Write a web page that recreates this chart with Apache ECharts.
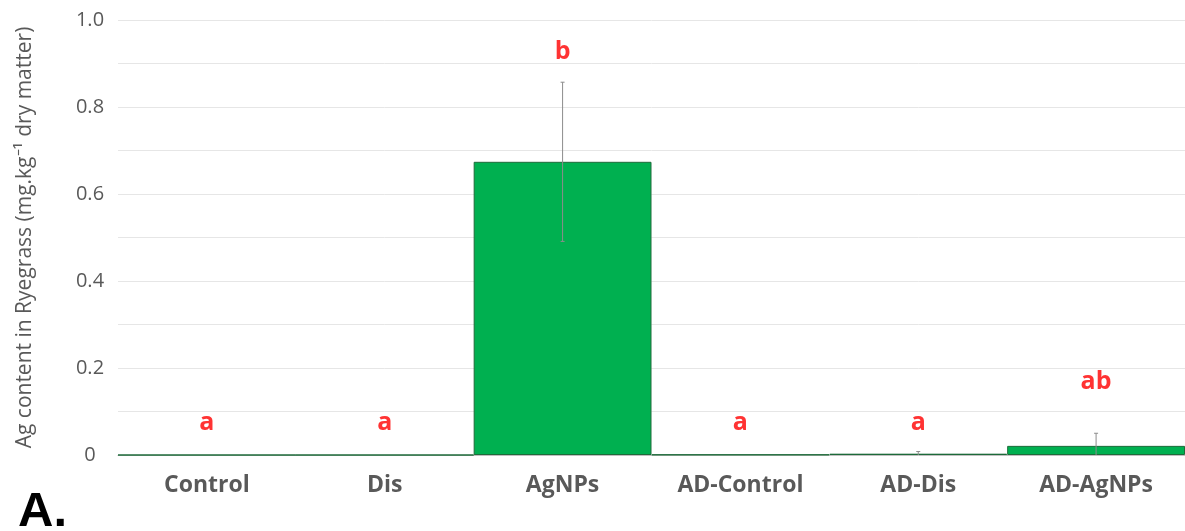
<!DOCTYPE html>
<html><head><meta charset="utf-8">
<script src="https://cdn.jsdelivr.net/npm/echarts@6/dist/echarts.min.js"></script>
<style>html,body{margin:0;padding:0;background:#fff;overflow:hidden}#c{width:1185px;height:531px}</style>
</head><body><div id="c"></div>
<script>
const categories = ['Control','Dis','AgNPs','AD-Control','AD-Dis','AD-AgNPs'];
const means = [0, 0, 0.674, 0.001, 0.003, 0.021];
const errors = [0, 0, 0.183, 0, 0.005, 0.029];
const letters = ['a','a','b','a','a','ab'];
const letterHeights = [0.074, 0.074, 0.926, 0.074, 0.074, 0.168];

const chart = echarts.init(document.getElementById('c'));
const font = '"Open Sans", "Liberation Sans", sans-serif';
chart.setOption({
  animation: false,
  grid: {left: 118, right: 0, top: 20, bottom: 76},
  xAxis: {
    type: 'category', data: categories,
    axisTick: {show: false},
    axisLine: {lineStyle: {color: '#bfbfbf', width: 1}},
    axisLabel: {color: '#595959', fontSize: 23, fontWeight: 'bold', fontFamily: font, margin: 19}
  },
  yAxis: {
    type: 'value', min: 0, max: 1, interval: 0.1,
    name: 'Ag content in Ryegrass (mg.kg⁻¹ dry matter)',
    nameLocation: 'middle', nameGap: 82,
    nameTextStyle: {color: '#595959', fontSize: 21, fontFamily: font},
    axisLine: {show: false}, axisTick: {show: false},
    splitLine: {lineStyle: {color: '#e6e6e6', width: 1}},
    axisLabel: {
      color: '#595959', fontSize: 20, fontFamily: font, margin: 28, align: 'center',
      formatter: v => { const r = Math.round(v*10); if (r % 2) return ''; return r === 0 ? '0' : (r/10).toFixed(1); }
    }
  },
  series: [
    {
      type: 'bar', data: means, barWidth: '100%',
      itemStyle: {color: '#00b050', borderColor: '#1e6b3a', borderWidth: 1}
    },
    {
      type: 'custom',
      data: means.map((m, i) => [i, Math.max(0, m - errors[i]), m + errors[i]]),
      renderItem: (params, api) => {
        const i = api.value(0);
        if (errors[i] === 0) return null;
        const lo = api.coord([i, api.value(1)]);
        const hi = api.coord([i, api.value(2)]);
        const st = {stroke: '#8c8c8c', lineWidth: 1};
        const children = [
          {type: 'line', shape: {x1: lo[0], y1: lo[1], x2: hi[0], y2: hi[1]}, style: st},
          {type: 'line', shape: {x1: hi[0]-2, y1: hi[1], x2: hi[0]+2, y2: hi[1]}, style: st}
        ];
        if (api.value(1) > 0) children.push({type: 'line', shape: {x1: lo[0]-2, y1: lo[1], x2: lo[0]+2, y2: lo[1]}, style: st});
        return {type: 'group', children};
      },
      z: 5
    },
    {
      type: 'scatter', symbolSize: 0,
      data: letterHeights.map((h, i) => ({value: [i, h], name: letters[i]})),
      label: {show: true, position: 'inside', formatter: p => p.name,
        color: '#ff0000', fontSize: 25, fontWeight: 'bold', fontFamily: font}
    }
  ],
  graphic: [{
    type: 'text', x: 18, y: 512,
    style: {text: 'A.', fontSize: 49, fontWeight: 'bold', fill: '#000', verticalAlign: 'middle',
      fontFamily: '"Liberation Sans", Arial, sans-serif'}
  }]
});
</script></body></html>
